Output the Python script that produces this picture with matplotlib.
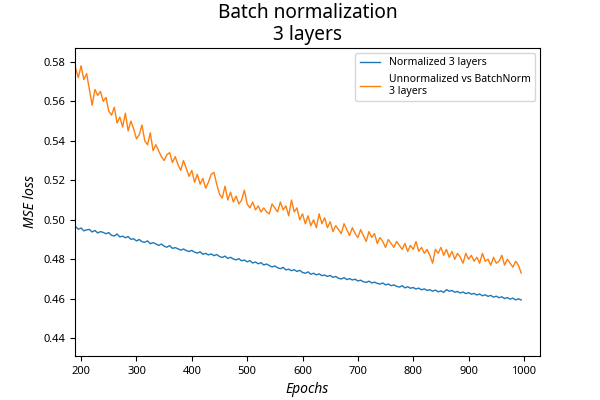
import numpy as np
import matplotlib as mpl
mpl.use('Agg')
import matplotlib.pyplot as plt

plt.rcParams['font.family'] = ['Noto Sans', 'DejaVu Sans']

# values, one every 5 epochs
epochs = np.arange(190, 1000, 5)

normalized = [
    0.4966, 0.4952, 0.4958, 0.4944, 0.4949, 0.4951, 0.4938, 0.4946, 0.4933, 0.4940,
    0.4936, 0.4929, 0.4935, 0.4921, 0.4918, 0.4928, 0.4913, 0.4917, 0.4909, 0.4915,
    0.4901, 0.4904, 0.4893, 0.4900, 0.4889, 0.4886, 0.4893, 0.4879, 0.4884, 0.4878,
    0.4870, 0.4877, 0.4866, 0.4861, 0.4869, 0.4855, 0.4859, 0.4853, 0.4846, 0.4852,
    0.4844, 0.4839, 0.4845, 0.4836, 0.4831, 0.4838, 0.4825, 0.4830, 0.4822, 0.4827,
    0.4818, 0.4824, 0.4814, 0.4809, 0.4816, 0.4804, 0.4810, 0.4801, 0.4797, 0.4803,
    0.4792, 0.4796, 0.4787, 0.4793, 0.4781, 0.4786, 0.4777, 0.4783, 0.4771, 0.4776,
    0.4768, 0.4761, 0.4766, 0.4757, 0.4752, 0.4759, 0.4746, 0.4750, 0.4742, 0.4747,
    0.4738, 0.4744, 0.4733, 0.4729, 0.4736, 0.4724, 0.4729, 0.4721, 0.4726, 0.4717,
    0.4720, 0.4713, 0.4718, 0.4708, 0.4713, 0.4704, 0.4700, 0.4707, 0.4697, 0.4702,
    0.4695, 0.4699, 0.4690, 0.4694, 0.4686, 0.4683, 0.4689, 0.4680, 0.4684, 0.4678,
    0.4674, 0.4680, 0.4670, 0.4675, 0.4666, 0.4670, 0.4663, 0.4659, 0.4666, 0.4655,
    0.4661, 0.4653, 0.4657, 0.4649, 0.4654, 0.4645, 0.4650, 0.4642, 0.4646, 0.4638,
    0.4644, 0.4635, 0.4640, 0.4632, 0.4646, 0.4638, 0.4642, 0.4633, 0.4637, 0.4629,
    0.4634, 0.4626, 0.4631, 0.4623, 0.4627, 0.4619, 0.4624, 0.4615, 0.4620, 0.4612,
    0.4617, 0.4608, 0.4613, 0.4605, 0.4610, 0.4601, 0.4606, 0.4598, 0.4603, 0.4594,
    0.4600, 0.4594,
]

unnormalized = [
    0.577, 0.572, 0.578, 0.571, 0.574, 0.566, 0.558, 0.566, 0.563, 0.565,
    0.560, 0.562, 0.555, 0.553, 0.557, 0.549, 0.552, 0.547, 0.554, 0.545,
    0.550, 0.546, 0.541, 0.543, 0.548, 0.540, 0.538, 0.544, 0.535, 0.538,
    0.535, 0.532, 0.530, 0.533, 0.534, 0.529, 0.532, 0.528, 0.525, 0.530,
    0.526, 0.522, 0.525, 0.519, 0.523, 0.518, 0.521, 0.516, 0.519, 0.523,
    0.524, 0.518, 0.513, 0.511, 0.517, 0.510, 0.514, 0.509, 0.512, 0.508,
    0.510, 0.515, 0.508, 0.506, 0.509, 0.505, 0.507, 0.504, 0.506, 0.504,
    0.503, 0.508, 0.506, 0.504, 0.509, 0.505, 0.507, 0.502, 0.510, 0.504,
    0.506, 0.500, 0.503, 0.498, 0.502, 0.497, 0.500, 0.496, 0.503, 0.498,
    0.501, 0.496, 0.499, 0.494, 0.497, 0.495, 0.493, 0.498, 0.495, 0.492,
    0.496, 0.493, 0.491, 0.495, 0.492, 0.489, 0.494, 0.491, 0.493, 0.488,
    0.491, 0.489, 0.486, 0.490, 0.488, 0.486, 0.489, 0.487, 0.485, 0.488,
    0.484, 0.487, 0.485, 0.489, 0.484, 0.486, 0.483, 0.485, 0.482, 0.478,
    0.485, 0.483, 0.486, 0.482, 0.485, 0.481, 0.484, 0.480, 0.483, 0.481,
    0.478, 0.483, 0.480, 0.482, 0.479, 0.481, 0.478, 0.483, 0.479, 0.480,
    0.477, 0.481, 0.478, 0.479, 0.482, 0.477, 0.480, 0.478, 0.476, 0.479,
    0.477, 0.473,
]

fig, ax = plt.subplots(figsize=(6, 4), dpi=100)
ax.plot(epochs, normalized, color='#1f77b4', lw=1.0, label='Normalized 3 layers')
ax.plot(epochs, unnormalized, color='#ff7f0e', lw=1.0,
        label='Unnormalized vs BatchNorm\n3 layers')

ax.set_xlim(189, 1029)
ax.set_ylim(0.431, 0.587)
ax.set_xticks(np.arange(200, 1001, 100))
ax.set_yticks(np.arange(0.44, 0.581, 0.02))
ax.tick_params(labelsize=8)

ax.set_title('Batch normalization\n3 layers', fontsize=13.7, linespacing=1.1)
ax.set_xlabel('Epochs', style='italic', fontsize=10)
ax.set_ylabel('MSE loss', style='italic', fontsize=10)
ax.legend(loc='upper right', fontsize=7.5)

fig.savefig('out.png')
